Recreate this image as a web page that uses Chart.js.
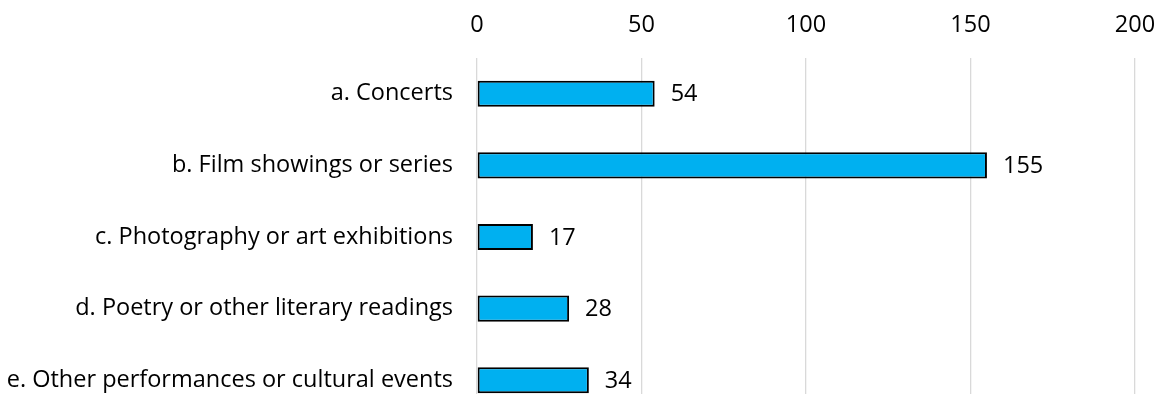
<!DOCTYPE html>
<html>
<head>
<meta charset="utf-8">
<script src="https://cdn.jsdelivr.net/npm/chart.js@4"></script>
<style>
    html, body { margin: 0; padding: 0; background: #fff; overflow: hidden; }
</style>
</head>
<body>
<canvas id="eventsChart" width="1168" height="416"></canvas>
<script>
const categories = [
    'a. Concerts',
    'b. Film showings or series',
    'c. Photography or art exhibitions',
    'd. Poetry or other literary readings',
    'e. Other performances or cultural events'
];
const counts = [54, 155, 17, 28, 34];
const axisTicks = [0, 50, 100, 150, 200];

const FONT = { family: '"Open Sans", sans-serif', size: 23.5 };

// value labels to the right of each bar
const barValueLabels = {
    id: 'barValueLabels',
    afterDatasetsDraw(chart) {
        const ctx = chart.ctx;
        const meta = chart.getDatasetMeta(0);
        ctx.save();
        ctx.font = `${FONT.size}px ${FONT.family}`;
        ctx.fillStyle = '#000';
        ctx.textAlign = 'left';
        ctx.textBaseline = 'middle';
        meta.data.forEach((bar, i) => {
            ctx.fillText(String(counts[i]), bar.x + 16, bar.y + 1);
        });
        ctx.restore();
    }
};

new Chart(document.getElementById('eventsChart').getContext('2d'), {
    type: 'bar',
    data: {
        labels: categories,
        datasets: [{
            data: counts,
            backgroundColor: '#00b0f0',
            borderColor: '#000',
            borderWidth: 2,
            borderSkipped: false,
            categoryPercentage: 1,
            barPercentage: 0.364
        }]
    },
    options: {
        responsive: false,
        indexAxis: 'y',
        animation: false,
        layout: { padding: { top: 0, right: 33, bottom: 0, left: 0 } },
        plugins: {
            legend: { display: false },
            tooltip: { enabled: false }
        },
        scales: {
            x: {
                position: 'top',
                min: 0,
                max: 200,
                afterBuildTicks: scale => {
                    scale.ticks = axisTicks.map(v => ({ value: v }));
                },
                // fixed axis band so the plot starts at the same height
                afterFit: scale => {
                    scale.height = 58;
                    scale.paddingLeft = 0;
                    scale.paddingRight = 0;
                },
                border: { display: false },
                grid: { color: '#d9d9d9', lineWidth: 1.3, drawTicks: false },
                ticks: { color: '#000', font: FONT, padding: 19 }
            },
            y: {
                afterFit: scale => {
                    scale.width = 477;
                    scale.paddingTop = 0;
                    scale.paddingBottom = 0;
                },
                border: { display: false },
                grid: { display: false, drawTicks: false },
                ticks: { color: '#000', font: FONT, padding: 24 }
            }
        }
    },
    plugins: [barValueLabels]
});
</script>
</body>
</html>
